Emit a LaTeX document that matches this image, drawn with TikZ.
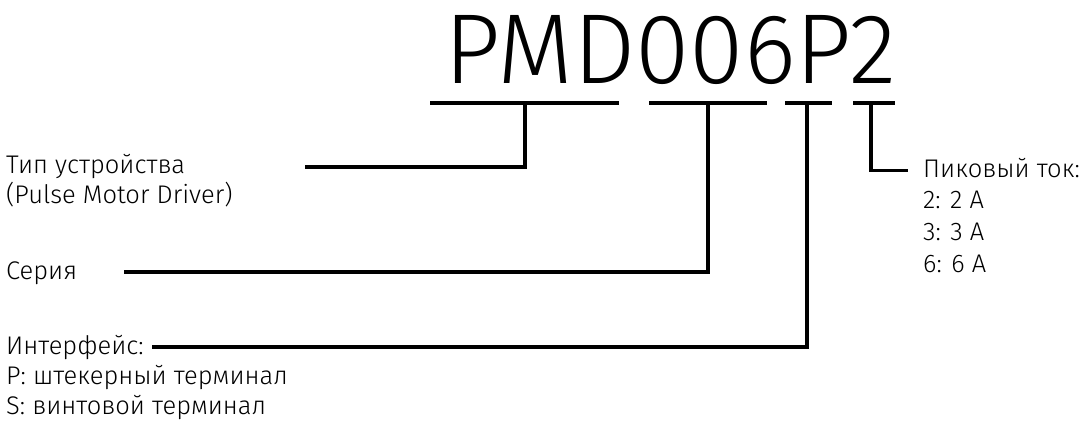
\documentclass[tikz,border=0pt]{standalone}
\usepackage{fontspec}
\setmainfont{Fira Sans}[UprightFont={* Light}]
\usepackage{graphicx}
\begin{document}
\begin{tikzpicture}[x=1pt,y=-1pt,
  lbl/.style={anchor=base west,inner sep=0pt,font=\fontsize{25.5}{30}\selectfont},
  bar/.style={line width=3.2pt},
  lead/.style={line width=3.8pt,line join=miter}]
\useasboundingbox (0,0) rectangle (1083,421);
% title
\node[anchor=base west,inner sep=0pt] (title) at (444,83) {\resizebox{452pt}{68pt}{PMD006P2}};
% labels
\node[lbl] (type1) at (6,173) {Тип устройства};
\node[lbl] (type2) at (6,203) {(Pulse Motor Driver)};
\node[lbl] (ser) at (6,279) {Серия};
\node[lbl] (intf) at (6,354) {Интерфейс:};
\node[lbl] (intP) at (6,384) {P: штекерный терминал};
\node[lbl] (intS) at (6,414) {S: винтовой терминал};
\node[lbl] (pk) at (923,177) {Пиковый ток:};
\node[lbl] (pk2) at (923,208) {2: 2 A};
\node[lbl] (pk3) at (923,240) {3: 3 A};
\node[lbl] (pk6) at (923,272) {6: 6 A};
% bars
\coordinate (b1l) at (430,103); \coordinate (b1r) at (619,103); \coordinate (b1m) at (525,103);
\coordinate (b2l) at (649,103); \coordinate (b2r) at (767,103); \coordinate (b2m) at (708,103);
\coordinate (b3l) at (785,103); \coordinate (b3r) at (832,103); \coordinate (b3m) at (807,103);
\coordinate (b4l) at (853,103); \coordinate (b4r) at (895,103); \coordinate (b4m) at (871,103);
\coordinate (e1) at (305,167);
\coordinate (e2) at (124,272);
\coordinate (e3) at (152,347);
\coordinate (e4) at (908,170.5);
\draw[bar] (b1l) -- (b1r);
\draw[bar] (b2l) -- (b2r);
\draw[bar] (b3l) -- (b3r);
\draw[bar] (b4l) -- (b4r);
\draw[lead] (b1m) |- (e1);
\draw[lead] (b2m) |- (e2);
\draw[lead] (b3m) |- (e3);
\draw[lead] (b4m) |- (e4);
\end{tikzpicture}
\end{document}
